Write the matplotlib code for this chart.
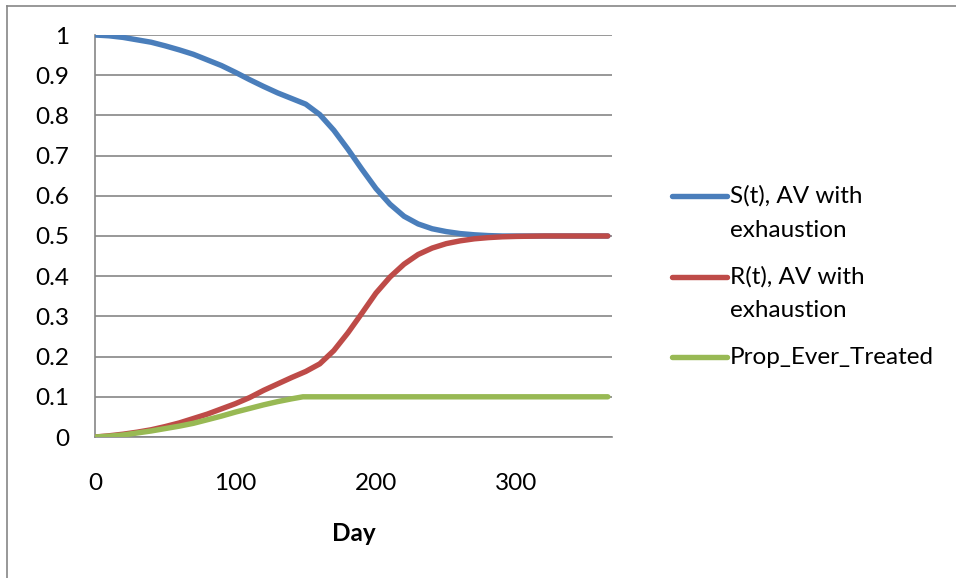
import matplotlib.pyplot as plt
from matplotlib.lines import Line2D

plt.rcParams['font.family'] = ['Lato', 'DejaVu Sans']

# values
days = [0, 10, 20, 30, 40, 50, 60, 70, 80, 90, 100, 110, 120, 130, 140, 150,
        160, 170, 180, 190, 200, 210, 220, 230, 240, 250, 260, 270, 280, 290,
        300, 320, 340, 365]
s_t = [1.0, 0.998, 0.994, 0.988, 0.982, 0.973, 0.963, 0.952, 0.938, 0.924,
       0.907, 0.889, 0.872, 0.856, 0.842, 0.828, 0.802, 0.763, 0.716, 0.666,
       0.618, 0.579, 0.549, 0.530, 0.518, 0.511, 0.506, 0.503, 0.501, 0.500,
       0.500, 0.500, 0.500, 0.500]
r_t = [0.0, 0.003, 0.007, 0.012, 0.018, 0.026, 0.035, 0.046, 0.057, 0.070,
       0.083, 0.098, 0.116, 0.132, 0.148, 0.163, 0.182, 0.215, 0.259, 0.308,
       0.358, 0.398, 0.430, 0.454, 0.470, 0.481, 0.488, 0.493, 0.496, 0.498,
       0.499, 0.500, 0.500, 0.500]
treat_days = [0, 10, 20, 30, 40, 50, 60, 70, 80, 90, 100, 110, 120, 130, 140, 148, 365]
ever_treated = [0.0, 0.002, 0.005, 0.010, 0.015, 0.021, 0.027, 0.034, 0.043, 0.052,
                0.062, 0.071, 0.080, 0.088, 0.095, 0.100, 0.100]

labels = [['S(t), AV with', 'exhaustion'], ['R(t), AV with', 'exhaustion'],
          ['Prop_Ever_Treated']]
colors = ['#4A7EBB', '#BE4B48', '#98B954']
yticks = [0, 0.1, 0.2, 0.3, 0.4, 0.5, 0.6, 0.7, 0.8, 0.9, 1]
ytick_labels = ['0', '0.1', '0.2', '0.3', '0.4', '0.5', '0.6', '0.7', '0.8', '0.9', '1']
xticks = [0, 100, 200, 300]

W, H = 956, 578
fs = 17.5
fig = plt.figure(figsize=(W / 100, H / 100), dpi=100)
ax = fig.add_axes([95 / W, 1 - 437 / H, (612 - 95) / W, (437 - 35) / H])

grid_c = '#868686'
lw = 3.9
ax.plot(days, s_t, color=colors[0], lw=lw, solid_capstyle='round', zorder=3)
ax.plot(days, r_t, color=colors[1], lw=lw, solid_capstyle='round', zorder=3)
ax.plot(treat_days, ever_treated, color=colors[2], lw=lw, solid_capstyle='round', zorder=4)

ax.set_xlim(0, 368)
ax.set_ylim(0, 1)
ax.set_xticks(xticks)
ax.set_yticks(yticks)
ax.set_yticklabels(ytick_labels)
ax.tick_params(length=0, labelsize=fs, colors='black')
ax.tick_params(axis='y', pad=18.7)
ax.tick_params(axis='x', pad=26)
ax.yaxis.grid(True, color=grid_c, lw=1.2)
ax.set_axisbelow(True)
for side in ['top', 'right']:
    ax.spines[side].set_visible(False)
for side in ['left', 'bottom']:
    ax.spines[side].set_color(grid_c)
    ax.spines[side].set_linewidth(1.2)

ax.set_xlabel('Day', fontsize=fs, fontweight='bold', labelpad=20)

# legend in Excel style: handle aligned with the first text line
handle_y = [196, 276.7, 357]
baselines = [[203, 236.7], [283.3, 316.7], [364]]
for c, hy, lines, bls in zip(colors, handle_y, labels, baselines):
    fig.add_artist(Line2D([672 / W, 727 / W], [1 - hy / H, 1 - hy / H], color=c,
                          lw=lw, solid_capstyle='round'))
    for txt, by in zip(lines, bls):
        fig.text(730 / W, 1 - by / H, txt, fontsize=fs, va='baseline', ha='left')

# outer chart frame (top and left edges visible in the reference)
fig.add_artist(Line2D([7 / W, 1], [1 - 5.5 / H, 1 - 5.5 / H], color=grid_c, lw=1.2))
fig.add_artist(Line2D([7 / W, 7 / W], [0, 1 - 5.5 / H], color=grid_c, lw=1.2))

fig.savefig('out.png', dpi=100)
